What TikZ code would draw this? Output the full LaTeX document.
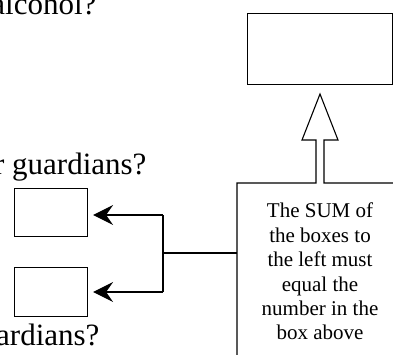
\documentclass[tikz,border=0pt]{standalone}
\usepackage{fontspec}
\setmainfont{Liberation Serif}
\usetikzlibrary{arrows.meta,calc}
\begin{document}
\begin{tikzpicture}[x=1pt,y=-1pt,line width=1.1pt,
  box/.style={draw,rectangle,inner sep=0pt,anchor=north west},
  question/.style={anchor=base east,inner sep=0pt,font=\fontsize{31}{36}\selectfont},
  feed/.style={-{Stealth[length=20pt,width=20pt,inset=7pt]}},
  note/.style={anchor=north,inner sep=0pt,align=center,font=\fontsize{21}{24.4}\selectfont}]
\useasboundingbox (0,0) rectangle (393,354);
\clip (0,0) rectangle (393,354);

% answer boxes
\node[box,minimum width=145pt,minimum height=71pt] (top) at (247,13) {};
\node[box,minimum width=73pt,minimum height=48pt] (upbox) at (14,188) {};
\node[box,minimum width=73pt,minimum height=49pt] (lowbox) at (14,267) {};

% questions
\node[question] (q1) at (97,14) {alcohol?};
\node[question] (q2) at (147,174) {r guardians?};
\node[question] (q3) at (100,345) {guardians?};

% panel with the hollow arrow rising from its top edge
\coordinate (panelbl) at (237,360);
\coordinate (paneltl) at (237,183);
\coordinate (panelend) at (400,183);
\draw (panelbl) -- (paneltl) -- (316,183) -- (316,140) -- (302,140)
      -- (320,94) -- (338,140) -- (324,140) -- (324,183) -- (panelend);

\node[note] (rule) at (320,202.6)
  {The SUM of\\the boxes to\\the left must\\equal the\\number in the\\box above};

% bracket splitting towards the two small boxes
\coordinate (hubtop) at (163,215);
\coordinate (hubbot) at (163,292);
\coordinate (hubmid) at (163,253);
\draw (hubtop) -- (hubbot);
\draw (hubmid) -- (hubmid -| paneltl);
\draw[feed] (hubtop) -- ($(upbox.east |- hubtop)+(5,0)$);
\draw[feed] (hubbot) -- ($(lowbox.east |- hubbot)+(5,0)$);
\end{tikzpicture}
\end{document}
